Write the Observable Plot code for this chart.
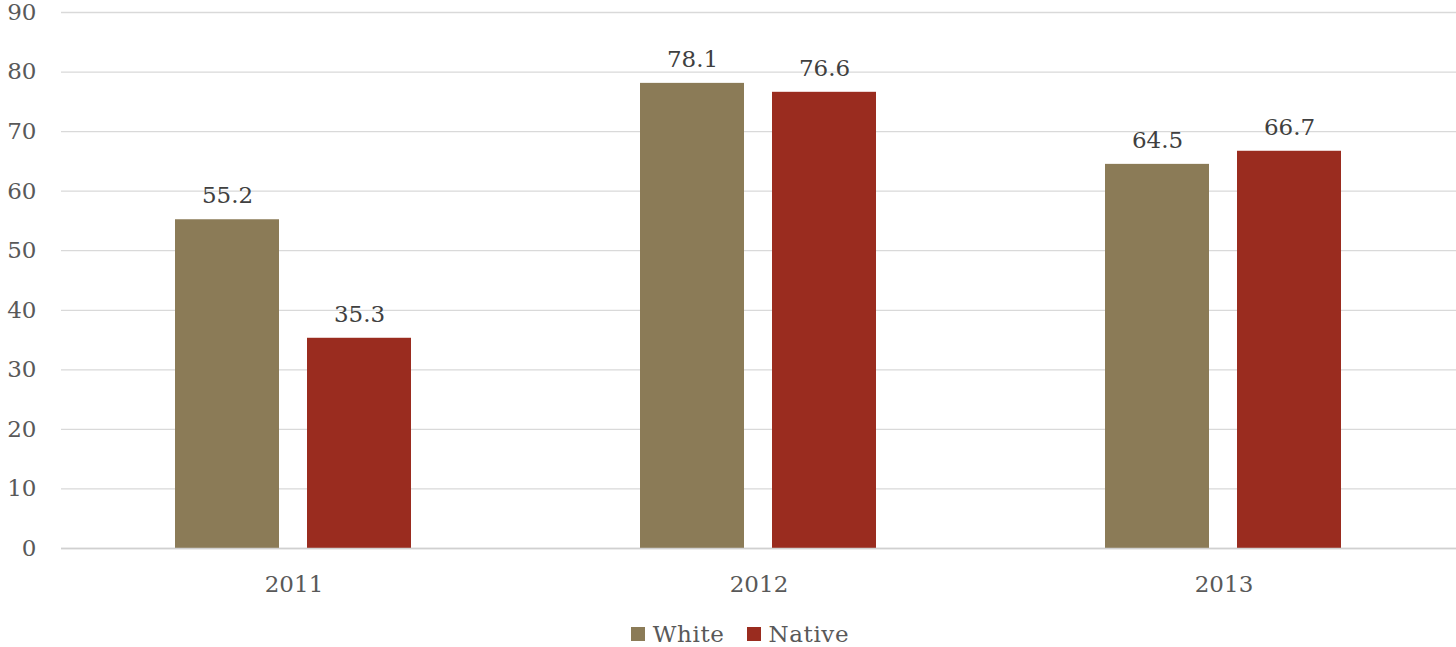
<!DOCTYPE html>
<html>
<head>
<meta charset="utf-8">
<script src="https://cdn.jsdelivr.net/npm/d3@7"></script>
<script src="https://cdn.jsdelivr.net/npm/@observablehq/plot@0.6"></script>
<style>
  html, body { margin: 0; padding: 0; background: #fff; }
  #chart { width: 1456px; }
  .legend { display: flex; justify-content: center; align-items: center; height: 42px; margin-top: 8px; padding-left: 24px; font-family: "DejaVu Serif", serif; font-size: 23px; color: #595959; }
  .legend .item { display: flex; align-items: center; margin: 0 11px; letter-spacing: 0.6px; }
  .legend .sw { width: 14px; height: 14px; margin-right: 8px; }
</style>
</head>
<body>
<div id="chart"></div>
<script>
const years = ["2011", "2012", "2013"];
const seriesNames = ["White", "Native"];
const whiteValues = [55.2, 78.1, 64.5];
const nativeValues = [35.3, 76.6, 66.7];
const seriesColors = ["#8B7B57", "#9A2C1F"];
const yTicks = [0, 10, 20, 30, 40, 50, 60, 70, 80, 90];

const data = [];
years.forEach((yr, i) => {
  data.push({year: yr, series: "White", value: whiteValues[i]});
  data.push({year: yr, series: "Native", value: nativeValues[i]});
});

const chart = Plot.plot({
  width: 1456,
  height: 605,
  marginTop: 12,
  marginBottom: 57,
  marginLeft: 60,
  marginRight: 0,
  style: {fontFamily: "DejaVu Serif, serif", fontSize: "23px", color: "#595959", background: "#fff"},
  fx: {domain: years, padding: 0, axis: "bottom", tickSize: 0, tickPadding: 27, label: null},
  x: {domain: seriesNames, axis: null, paddingInner: 0.212, paddingOuter: 0.86},
  y: {domain: [0, 90], ticks: yTicks, tickSize: 0, tickPadding: 25, label: null, tickFormat: d => d},
  color: {domain: seriesNames, range: seriesColors},
  marks: [
    Plot.ruleY(yTicks, {stroke: "#d9d9d9", strokeWidth: 1.3}),
    Plot.barY(data, {fx: "year", x: "series", y: "value", fill: "series"}),
    Plot.ruleY([0], {stroke: "#d0d0d0", strokeWidth: 1.5}),
    Plot.text(data, {fx: "year", x: "series", y: "value", text: d => d.value.toFixed(1), dy: -24, fill: "#404040", fontSize: 23})
  ]
});
document.getElementById("chart").appendChild(chart);

const legend = document.createElement("div");
legend.className = "legend";
seriesNames.forEach((name, i) => {
  const item = document.createElement("div");
  item.className = "item";
  const sw = document.createElement("div");
  sw.className = "sw";
  sw.style.background = seriesColors[i];
  const label = document.createElement("span");
  label.textContent = name;
  item.appendChild(sw);
  item.appendChild(label);
  legend.appendChild(item);
});
document.getElementById("chart").appendChild(legend);
</script>
</body>
</html>
